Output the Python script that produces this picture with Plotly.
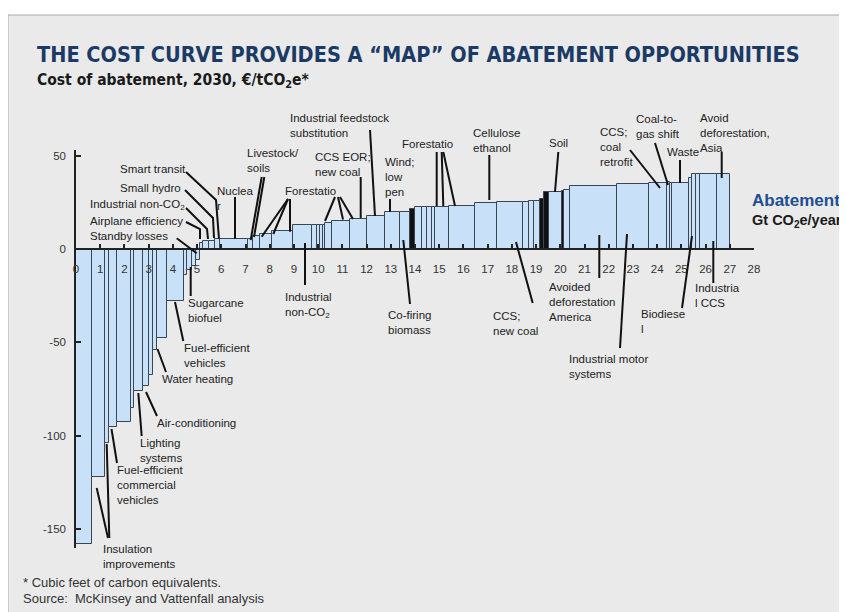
import plotly.graph_objects as go

# ------------------------------------------------------------------
# Data: cumulative abatement (right edge of each bar, Gt CO2e/year)
# and cost of abatement (EUR/tCO2e)
# ------------------------------------------------------------------
abatement_edges = [
    0.67, 1.20, 1.38, 1.71, 2.26, 2.40, 2.78, 3.00, 3.17, 3.36, 3.77, 4.46,
    4.60, 4.79, 4.96, 5.12,
    5.25, 5.51, 5.74, 5.95, 7.10, 7.33, 7.60, 8.08, 8.98, 9.74, 9.94, 10.08,
    10.19, 10.29, 10.56, 11.32, 12.01, 12.77, 13.39, 13.80, 14.00, 14.28,
    14.49, 14.70, 14.83, 15.39, 16.49, 17.38, 18.48, 18.69, 18.90, 19.17,
    19.31, 19.52, 20.07, 20.14, 20.41, 22.34, 23.65, 24.41, 24.55, 24.62,
    25.30, 25.44, 25.60, 25.79, 26.47, 27.02,
]
costs = [
    -158, -122, -104, -95, -92.5, -85, -76, -73.5, -67.5, -54, -47.5, -28,
    -14, -11, -9, -6,
    3.4, 4.4, 4.4, 5.2, 5.2, 5.5, 7, 8.3, 9.5, 12.8, 12.8, 12.8,
    13, 13, 14.2, 15, 16, 17.7, 19.8, 19.8, 21.5, 22.3,
    22.3, 22.3, 22.3, 22.6, 22.9, 24.8, 25.2, 25.3, 25.8, 25.8,
    27, 30.7, 30.7, 31.2, 31.8, 33.7, 34.7, 35.6, 35.9, 35.6,
    35.6, 37.8, 40, 40, 40, 40,
]
dark_bars = [36, 48, 49, 51]          # very narrow bars that read as black

x_tick_values = list(range(0, 29))
y_tick_values = [50, 0, -50, -100, -150]

# ------------------------------------------------------------------
# Geometry (layout only). The page body adds an 8 px margin, so all
# screen estimates are shifted by that offset.
# ------------------------------------------------------------------
PAGE_OFFSET = 8
W, H = 847, 612
L, T = 68, 142
PW, PH = 678, 398
R, B = W - L - PW, H - T - PH
X_RANGE = [0, 28]
Y_RANGE = [-160, 53]


def pxp(px):
    """screen x pixel estimate -> paper x"""
    return (px - PAGE_OFFSET - L) / PW


def pyp(py):
    """screen y pixel estimate -> paper y"""
    return (T + PH - (py - PAGE_OFFSET)) / PH


# bar geometry derived from the data
starts = [0] + abatement_edges[:-1]
widths = [e - s for s, e in zip(starts, abatement_edges)]
mids = [s + w / 2 for s, w in zip(starts, widths)]
colors = ["#111111" if i in dark_bars else "#c9e1f8" for i in range(len(costs))]

fig = go.Figure()
fig.add_trace(go.Bar(
    x=mids, y=costs, width=widths,
    marker=dict(color=colors, line=dict(color="#3a4654", width=1)),
    hoverinfo="skip", showlegend=False,
))

# ------------------------------------------------------------------
# Labels with leader lines (positions estimated in screen pixels)
# ------------------------------------------------------------------
labels = [
    ("Insulation<br>improvements", 101, 556, [[(108, 538), (96.7, 488)], [(109.3, 538), (106.7, 444)]]),
    ("Fuel-efficient<br>commercial<br>vehicles", 115, 485, [[(117, 463), (111.5, 429)]]),
    ("Lighting<br>systems", 138.3, 450.8, [[(141.7, 436), (138.3, 393)]]),
    ("Air-conditioning", 155, 422.7, [[(157, 416), (146, 392)]]),
    ("Water heating", 160, 379, [[(166, 372), (157.5, 349)]]),
    ("Fuel-efficient<br>vehicles", 181.7, 355.3, [[(183.3, 341), (175, 302)]]),
    ("Sugarcane<br>biofuel", 185.7, 310, [[(190.7, 296), (190.7, 267)]]),
    ("Standby losses", 88.3, 236, [[(176.7, 238.3), (196.7, 253.3)]]),
    ("Airplane efficiency", 88.3, 220.7, [[(186, 222), (200, 229), (200, 239)]]),
    ("Industrial non-CO<sub>2</sub>", 88.3, 205, [[(186, 208), (207, 229), (208, 239)]]),
    ("Small hydro", 118.3, 188.3, [[(185, 190), (213, 218), (214, 238)]]),
    ("Smart transit", 118, 169.3, [[(186, 172), (216, 200), (219, 239)]]),
    ("Nuclea<br>r", 215, 198, [[(235, 197), (235, 239)]]),
    ("Livestock/<br>soils", 245, 160, [[(264.3, 177), (254, 237)], [(261.7, 177), (250.7, 240)]]),
    ("Forestatio", 282.7, 190.5, [[(288, 199), (261.7, 236.7)], [(288, 199), (273.3, 234)],
                                  [(290, 199), (290, 231.7)], [(335, 197), (325, 221)],
                                  [(338, 197), (343, 219.5)], [(340, 197), (353, 219)]]),
    ("Industrial feedstock<br>substitution", 288.3, 125.8, [[(370, 130), (375, 216)]]),
    ("CCS EOR;<br>new coal", 312.7, 164.5, [[(360.7, 177), (360.7, 218)]]),
    ("Wind;<br>low<br>pen", 383.3, 176.7, [[(390, 199), (390, 212)]]),
    ("Forestatio", 400, 144, [[(436.7, 152), (436.7, 206)], [(441.7, 152), (443.3, 206)],
                              [(443.3, 152), (455, 206)]]),
    ("Cellulose<br>ethanol", 470.7, 140.3, [[(489.3, 155), (489.3, 200)]]),
    ("Soil", 546.7, 143.3, [[(558.3, 152), (555, 192)]]),
    ("CCS;<br>coal<br>retrofit", 598.3, 146.7, [[(630, 150), (660, 188)]]),
    ("Coal-to-<br>gas shift", 634.3, 126.3, [[(655, 143), (668, 185)]]),
    ("Waste", 665, 151.7, [[(680, 160), (680, 183)]]),
    ("Avoid<br>deforestation,<br>Asia", 698.3, 133.3, [[(721.7, 152), (721.7, 178)]]),
    ("Industrial<br>non-CO<sub>2</sub>", 282.7, 305, [[(305, 285), (305, 243)]]),
    ("Co-firing<br>biomass", 386, 322.7, [[(410, 304), (403.3, 240)]]),
    ("CCS;<br>new coal", 491, 323, [[(532.7, 303), (516, 242)]]),
    ("Avoided<br>deforestation<br>America", 547, 302, [[(599.3, 278), (599.3, 235)]]),
    ("Industrial motor<br>systems", 566.7, 366.3, [[(620, 348), (627, 234)]]),
    ("Biodiese<br>l", 639.3, 321, [[(682, 308), (692, 236)]]),
    ("Industria<br>l CCS", 692.7, 295.3, [[(713.3, 283), (713.3, 241)]]),
]

SANS = "Liberation Sans, Arial, sans-serif"
NARROW = "Liberation Sans Narrow, DejaVu Sans Condensed, Arial Narrow, sans-serif"
LABEL_FONT = dict(family=SANS, size=11.5, color="#222222")

annotations = []
shapes = [
    # light grey slide frame
    dict(type="rect", xref="paper", yref="paper", layer="below",
         x0=pxp(8), x1=pxp(900), y0=pyp(700), y1=pyp(15),
         fillcolor="#eaeaea", line=dict(color="#a8a8a8", width=1)),
]

for text, tx, ty, leaders in labels:
    annotations.append(dict(
        text=text, x=pxp(tx), y=pyp(ty), xref="paper", yref="paper",
        xanchor="left", yanchor="middle", align="left",
        showarrow=False, font=LABEL_FONT,
    ))
    for poly in leaders:
        path = "M " + " L ".join(f"{pxp(px):.5f},{pyp(py):.5f}" for px, py in poly)
        shapes.append(dict(type="path", path=path, xref="paper", yref="paper",
                           line=dict(color="#111111", width=2)))

# title / subtitle / axis caption / footnotes
annotations += [
    dict(text="<b>THE COST CURVE PROVIDES A “MAP” OF ABATEMENT OPPORTUNITIES</b>",
         x=pxp(35), y=pyp(54), xref="paper", yref="paper", xanchor="left", yanchor="middle",
         showarrow=False, font=dict(family=NARROW, size=21.5, color="#1b3a66")),
    dict(text="<b>Cost of abatement, 2030, €/tCO<sub>2</sub>e*</b>",
         x=pxp(35), y=pyp(81), xref="paper", yref="paper", xanchor="left", yanchor="middle",
         showarrow=False, font=dict(family=NARROW, size=15.5, color="#1a1a1a")),
    dict(text="<b>Abatement</b>", x=pxp(750), y=pyp(200), xref="paper", yref="paper",
         xanchor="left", yanchor="middle", showarrow=False,
         font=dict(family=SANS, size=17, color="#1d4f91")),
    dict(text="<b>Gt CO<sub>2</sub>e/year</b>", x=pxp(750), y=pyp(221), xref="paper", yref="paper",
         xanchor="left", yanchor="middle", showarrow=False,
         font=dict(family=SANS, size=14.5, color="#1a1a1a")),
    dict(text="* Cubic feet of carbon equivalents.", x=pxp(21), y=pyp(582), xref="paper", yref="paper",
         xanchor="left", yanchor="middle", showarrow=False,
         font=dict(family=SANS, size=13, color="#333333")),
    dict(text="Source:  McKinsey and Vattenfall analysis", x=pxp(21), y=pyp(598), xref="paper", yref="paper",
         xanchor="left", yanchor="middle", showarrow=False,
         font=dict(family=SANS, size=13, color="#333333")),
]

TICK_FONT = dict(family=SANS, size=11.5, color="#333333")

fig.update_layout(
    width=W, height=H,
    margin=dict(l=L, r=R, t=T, b=B, pad=0),
    paper_bgcolor="white",
    plot_bgcolor="rgba(0,0,0,0)",
    showlegend=False,
    bargap=0,
    xaxis=dict(
        range=X_RANGE, anchor="free",
        position=(0 - Y_RANGE[0]) / (Y_RANGE[1] - Y_RANGE[0]),
        showline=True, linecolor="#222222", linewidth=1.5,
        ticks="inside", ticklen=4, tickwidth=1.5, tickcolor="#222222",
        tickvals=x_tick_values, ticktext=[str(v) for v in x_tick_values],
        ticklabelstandoff=9,
        showgrid=False, zeroline=False, tickfont=TICK_FONT, fixedrange=True,
    ),
    yaxis=dict(
        range=Y_RANGE,
        showline=True, linecolor="#222222", linewidth=1.5,
        ticks="inside", ticklen=5, tickwidth=1.5, tickcolor="#222222",
        tickvals=y_tick_values, ticktext=[str(v) for v in y_tick_values],
        ticklabelstandoff=6,
        showgrid=False, zeroline=False, tickfont=TICK_FONT, fixedrange=True,
    ),
    shapes=shapes,
    annotations=annotations,
)

fig.write_html("out.html")
